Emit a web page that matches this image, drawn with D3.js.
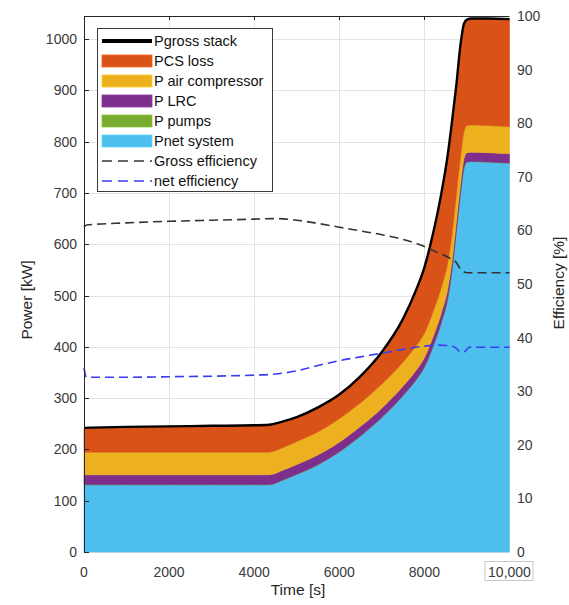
<!DOCTYPE html>
<html>
<head>
<meta charset="utf-8">
<script src="https://cdn.jsdelivr.net/npm/d3@7"></script>
<style>
  html, body { margin: 0; padding: 0; background: #fff; }
  svg { display: block; font-family: "Liberation Sans", Arial, Helvetica, sans-serif; }
</style>
</head>
<body>
<svg id="chart" width="569" height="605"></svg>
<script>
// Time axis [s]
const time = [0, 1000, 2000, 3000, 4000, 4350, 4700, 5000, 5500, 6000, 6500, 7000, 7500, 7800, 8000, 8200, 8400, 8550, 8650, 8750, 8850, 8930, 9000, 9100, 9500, 10000];

// Power contributions [kW], stacked from the bottom up
const pNet     = [131, 131, 131, 131, 131, 131, 141, 151, 170, 195, 226, 262, 305, 335, 360, 400, 448, 495, 550, 625, 700, 748, 760, 761, 760, 758];
const pPumps   = [0.5, 0.5, 0.5, 0.5, 0.5, 0.5, 0.5, 0.5, 0.5, 0.5, 0.5, 0.5, 0.5, 0.5, 0.5, 0.5, 0.5, 0.5, 0.5, 0.5, 0.5, 0.5, 0.5, 0.5, 0.5, 0.5];
const pLRC     = [19, 19, 19, 19, 19, 19, 19, 19, 19, 18.5, 18.5, 18, 18, 18, 18, 18, 18, 18, 18, 18, 18, 18, 18, 18, 18, 18];
const pAirComp = [44, 44, 44, 44, 44, 44, 44, 45, 45, 46, 46, 47, 47, 48, 48, 49, 50, 51, 51, 52, 52, 53, 53, 53, 53, 53];
const pPcsLoss = [47.5, 49.5, 50.5, 51.5, 52.5, 53.5, 50.5, 47.5, 47.5, 47, 52, 62.5, 84.5, 108.5, 128.5, 152.5, 183.5, 210.5, 220.5, 214.5, 219.5, 210.5, 206.5, 207.5, 208.5, 209.5];

// Efficiencies [%]
const effTime  = [0, 60, 1000, 2000, 3000, 4000, 4500, 5000, 5500, 6000, 6500, 7000, 7500, 8000, 8300, 8600, 8750, 8850, 8950, 9050, 10000];
const grossEff = [60.6, 61.0, 61.4, 61.7, 61.9, 62.1, 62.2, 61.9, 61.3, 60.6, 59.9, 59.2, 58.3, 57.0, 55.9, 54.8, 54.0, 52.8, 52.2, 52.1, 52.1];
const netEff   = [34.3, 32.6, 32.6, 32.7, 32.8, 33.0, 33.2, 33.8, 34.8, 35.7, 36.4, 37.1, 37.8, 38.4, 38.6, 38.5, 38.0, 37.3, 37.4, 38.2, 38.2];

// Axis ticks
const xTicks = [0, 2000, 4000, 6000, 8000, 10000];
const xTickLabels = ["0", "2000", "4000", "6000", "8000", "10,000"];
const powerTicks = [0, 100, 200, 300, 400, 500, 600, 700, 800, 900, 1000];
const effTicks = [0, 10, 20, 30, 40, 50, 60, 70, 80, 90, 100];

const seriesKeys = ["net", "pumps", "lrc", "air", "pcs"];
const seriesColors = { net: "#4DBEEE", pumps: "#77AC30", lrc: "#7E2F8E", air: "#EDB120", pcs: "#D95319" };

const legendItems = [
  { label: "Pgross stack", type: "line", color: "#000", width: 4 },
  { label: "PCS loss", type: "patch", color: seriesColors.pcs },
  { label: "P air compressor", type: "patch", color: seriesColors.air },
  { label: "P LRC", type: "patch", color: seriesColors.lrc },
  { label: "P pumps", type: "patch", color: seriesColors.pumps },
  { label: "Pnet system", type: "patch", color: seriesColors.net },
  { label: "Gross efficiency", type: "dash", color: "#333" },
  { label: "net efficiency", type: "dash", color: "#3b3bf0" }
];

const svg = d3.select("#chart");
const plotLeft = 84, plotRight = 509.5, plotTop = 16, plotBottom = 552;

const x = d3.scaleLinear().domain([0, 10000]).range([plotLeft, plotRight]);
const yP = d3.scaleLinear().domain([0, 1045]).range([plotBottom, plotTop]);
const yE = d3.scaleLinear().domain([0, 100]).range([plotBottom, plotTop]);

// Grid
const grid = svg.append("g").attr("stroke", "#e3e3e3").attr("stroke-width", 1);
powerTicks.forEach(v => {
  grid.append("line").attr("x1", plotLeft).attr("x2", plotRight)
    .attr("y1", Math.round(yP(v)) + 0.5).attr("y2", Math.round(yP(v)) + 0.5);
});
xTicks.slice(1, -1).forEach(v => {
  grid.append("line").attr("y1", plotTop).attr("y2", plotBottom)
    .attr("x1", Math.round(x(v)) + 0.5).attr("x2", Math.round(x(v)) + 0.5);
});

// Stacked power areas
const rows = time.map((t, i) => ({
  t, net: pNet[i], pumps: pPumps[i], lrc: pLRC[i], air: pAirComp[i], pcs: pPcsLoss[i]
}));
const stacked = d3.stack().keys(seriesKeys)(rows);

const area = d3.area()
  .x(d => x(d.data.t))
  .y0(d => yP(d[0]))
  .y1(d => yP(d[1]))
  .curve(d3.curveMonotoneX);

svg.append("g").selectAll("path")
  .data(stacked)
  .join("path")
  .attr("d", area)
  .attr("fill", d => seriesColors[d.key])
  .attr("stroke", d => seriesColors[d.key])
  .attr("stroke-width", 0.6);

// Gross stack line on top of the stack
const topLayer = stacked[stacked.length - 1];
svg.append("path")
  .datum(topLayer)
  .attr("d", d3.line().x(d => x(d.data.t)).y(d => yP(d[1])).curve(d3.curveMonotoneX))
  .attr("fill", "none")
  .attr("stroke", "#000")
  .attr("stroke-width", 2.4);

// Efficiency curves (right axis)
const effLine = vals => d3.line()
  .x((d, i) => x(effTime[i]))
  .y(d => yE(d))
  .curve(d3.curveMonotoneX)(vals);

svg.append("path").attr("d", effLine(grossEff))
  .attr("fill", "none").attr("stroke", "#333").attr("stroke-width", 1.6)
  .attr("stroke-dasharray", "9,5");
svg.append("path").attr("d", effLine(netEff))
  .attr("fill", "none").attr("stroke", "#3b3bf0").attr("stroke-width", 1.6)
  .attr("stroke-dasharray", "9,5");

// Frame and ticks
const frame = svg.append("g").attr("stroke", "#262626").attr("stroke-width", 1);
frame.append("line").attr("x1", plotLeft + 0.5).attr("x2", plotLeft + 0.5).attr("y1", plotTop).attr("y2", plotBottom);
frame.append("line").attr("x1", plotLeft).attr("x2", plotRight).attr("y1", plotTop + 0.5).attr("y2", plotTop + 0.5);
powerTicks.forEach(v => {
  const yy = Math.round(yP(v)) + 0.5;
  frame.append("line").attr("x1", plotLeft).attr("x2", plotLeft + 5).attr("y1", yy).attr("y2", yy);
});
xTicks.slice(1, -1).forEach(v => {
  const xx = Math.round(x(v)) + 0.5;
  frame.append("line").attr("x1", xx).attr("x2", xx).attr("y1", plotTop).attr("y2", plotTop + 4);
});

// Tick labels
const labelColor = "#3a3a3a";
svg.append("g").selectAll("text").data(powerTicks).join("text")
  .attr("x", 77).attr("y", d => yP(d) + 5)
  .attr("text-anchor", "end").attr("font-size", 14).attr("fill", labelColor)
  .text(d => d);

svg.append("g").selectAll("text").data(effTicks).join("text")
  .attr("x", 517).attr("y", d => yE(d) + 5)
  .attr("text-anchor", "start").attr("font-size", 14).attr("fill", labelColor)
  .text(d => d);

// Last time label sits in its own small box
const lastX = x(xTicks[xTicks.length - 1]);
svg.append("rect")
  .attr("x", lastX - 24.5).attr("y", 561.5).attr("width", 48).attr("height", 19)
  .attr("fill", "#fff").attr("stroke", "#c8c8c8").attr("stroke-width", 1);

svg.append("g").selectAll("text").data(xTicks).join("text")
  .attr("x", d => x(d)).attr("y", 577)
  .attr("text-anchor", "middle").attr("font-size", 14).attr("fill", labelColor)
  .text((d, i) => xTickLabels[i]);

// Axis titles
svg.append("text")
  .attr("transform", "translate(32,300) rotate(-90)")
  .attr("text-anchor", "middle").attr("font-size", 15.5).attr("fill", "#262626")
  .text("Power [kW]");
svg.append("text")
  .attr("transform", "translate(564,283) rotate(-90)")
  .attr("text-anchor", "middle").attr("font-size", 15.5).attr("fill", "#262626")
  .text("Efficiency [%]");
svg.append("text")
  .attr("x", 298).attr("y", 595)
  .attr("text-anchor", "middle").attr("font-size", 15.5).attr("fill", "#262626")
  .text("Time [s]");

// Legend
const lg = svg.append("g");
lg.append("rect").attr("x", 97.5).attr("y", 28.5).attr("width", 175).attr("height", 163)
  .attr("fill", "#fff").attr("stroke", "#3a3a3a").attr("stroke-width", 1);
legendItems.forEach((it, i) => {
  const cy = 41 + i * 20;
  if (it.type === "patch") {
    lg.append("rect").attr("x", 102).attr("y", cy - 6).attr("width", 50).attr("height", 12)
      .attr("fill", it.color).attr("stroke", d3.color(it.color).brighter(0.4)).attr("stroke-width", 0.8);
  } else if (it.type === "line") {
    lg.append("line").attr("x1", 102).attr("x2", 152).attr("y1", cy).attr("y2", cy)
      .attr("stroke", it.color).attr("stroke-width", it.width);
  } else {
    lg.append("line").attr("x1", 102).attr("x2", 152).attr("y1", cy).attr("y2", cy)
      .attr("stroke", it.color).attr("stroke-width", 1.6).attr("stroke-dasharray", "10,6");
  }
  lg.append("text").attr("x", 154).attr("y", cy + 5)
    .attr("font-size", 14.5).attr("fill", "#111").text(it.label);
});
</script>
</body>
</html>
